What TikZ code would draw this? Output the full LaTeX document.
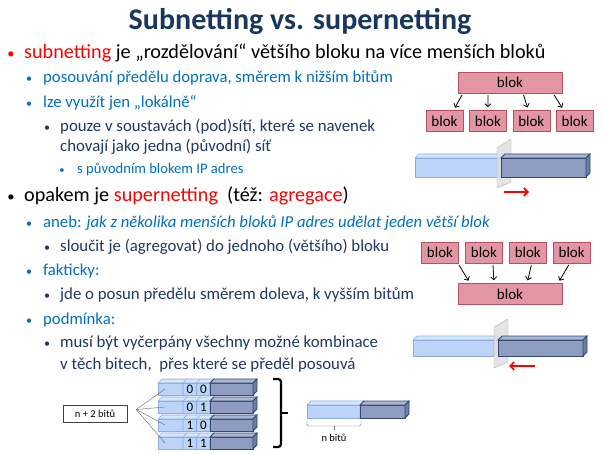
\documentclass[tikz,border=0pt]{standalone}
\usepackage{fontspec}
\setmainfont{Carlito}
\usetikzlibrary{arrows.meta,positioning,calc}

\definecolor{titleblue}{RGB}{23,55,94}
\definecolor{itemblue}{RGB}{0,112,192}
\definecolor{navy}{RGB}{31,56,100}
\definecolor{blokfill}{RGB}{226,150,163}
\definecolor{blokline}{RGB}{180,80,95}
\definecolor{ltfront}{RGB}{188,212,248}
\definecolor{lttopc}{RGB}{214,230,252}
\definecolor{ltedge}{RGB}{140,172,222}
\definecolor{dkfront}{RGB}{141,156,192}
\definecolor{dktopc}{RGB}{170,183,212}
\definecolor{dksidec}{RGB}{108,124,164}
\definecolor{dkedge}{RGB}{52,72,112}

% bullet hanging left of the text
\newcommand{\itm}[2]{\llap{\textcolor{#1}{\scalebox{0.72}{•}}\hspace{#2}}}
% 3D bar: x1, x2, front top, front bottom, kind (lt/dk)
\newcommand{\slab}[5]{%
  \draw[#5front] (#1,#3) rectangle (#2,#4);
  \draw[#5top] (#1,#3) -- ++(4,-4) -- (#2+4,#3-4) -- (#2,#3) -- cycle;
  \draw[#5side] (#2,#3) -- ++(4,-4) -- (#2+4,#4-4) -- (#2,#4) -- cycle;
}

\begin{document}
\begin{tikzpicture}[x=1pt,y=-1pt,
	lvA/.style={anchor=base west, inner sep=0pt, font=\fontsize{20.2}{24}\selectfont},
	lvB/.style={anchor=base west, inner sep=0pt, text=itemblue, font=\fontsize{16.7}{20}\selectfont},
	lvC/.style={anchor=base west, inner sep=0pt, text=navy, font=\fontsize{16.8}{20}\selectfont},
	lvD/.style={anchor=base west, inner sep=0pt, text=itemblue, font=\fontsize{14.6}{17}\selectfont},
	blok/.style={
		rectangle, draw=blokline, fill=blokfill, inner sep=0pt,
		minimum width=37pt, minimum height=21pt, font=\fontsize{15}{18}\selectfont
	},
	wide/.style={minimum width=104pt},
	arr/.style={draw, thick, shorten <=2pt, shorten >=3pt, -{Straight Barb[length=3pt,width=6pt]}},
	redarr/.style={draw=red, line width=1.6pt, -{Straight Barb[length=4pt,width=8pt]}},
	ltfront/.style={fill=ltfront, draw=ltedge, line width=0.6pt},
	lttop/.style={fill=lttopc, draw=ltedge, line width=0.6pt},
	ltside/.style={fill=ltfront, draw=ltedge, line width=0.6pt},
	dkfront/.style={fill=dkfront, draw=dkedge, line width=0.8pt},
	dktop/.style={fill=dktopc, draw=dkedge, line width=0.8pt},
	dkside/.style={fill=dksidec, draw=dkedge, line width=0.8pt},
	pane/.style={fill=black!12, draw=black!30, fill opacity=0.85},
	bit/.style={inner sep=0pt, font=\fontsize{13}{15}\selectfont},
	fan/.style={draw=black!60, thin},
	brc/.style={draw, line width=2.2pt, rounded corners=3pt},
	small/.style={font=\fontsize{10.5}{12}\selectfont},
	]
	\useasboundingbox[fill=white] (0,0) rectangle (605,454);

	% title
	\node[anchor=base, inner sep=0pt, text=titleblue, font=\fontsize{30}{34}\bfseries] (title) at (300,30)
		{Subnetting vs. supernetting};

	% text
	\node[lvA] (t1) at (24,59) {\itm{red}{9.5pt}\textcolor{red}{subnetting} je „rozdělování“ většího bloku na více menších bloků};
	\node[lvB] (t2) at (43,83) {\itm{itemblue}{11pt}posouvání předělu doprava, směrem k nižším bitům};
	\node[lvB] (t3) at (43,108) {\itm{itemblue}{11pt}lze využít jen „lokálně“};
	\node[lvC] (t4) at (60,132) {\itm{navy}{10pt}pouze v soustavách (pod)sítí, které se navenek};
	\node[lvC] (t5) at (60,152) {chovají jako jedna (původní) síť};
	\node[lvD] (t6) at (77,174) {\itm{itemblue}{12.5pt}s původním blokem IP adres};
	\node[lvA] (t7) at (24,202) {\itm{black}{9.5pt}opakem je \textcolor{red}{supernetting}\ \ (též: \textcolor{red}{agregace})};
	\node[lvB] (t8) at (43,228) {\itm{itemblue}{11pt}aneb: \textit{jak z několika menších bloků IP adres udělat jeden větší blok}};
	\node[lvC] (t9) at (60,252) {\itm{navy}{10pt}sloučit je (agregovat) do jednoho (většího) bloku};
	\node[lvB] (t10) at (43,276) {\itm{itemblue}{11pt}fakticky:};
	\node[lvC] (t11) at (60,300) {\itm{navy}{10pt}jde o posun předělu směrem doleva, k vyšším bitům};
	\node[lvB] (t12) at (43,324) {\itm{itemblue}{11pt}podmínka:};
	\node[lvC] (t13) at (60,348) {\itm{navy}{10pt}musí být vyčerpány všechny možné kombinace};
	\node[lvC] (t14) at (60,369) {v těch bitech,\ \ přes které se předěl posouvá};

	% subnetting: one block split
	\node[blok, wide] (sub) at (510,82.5) {blok};
	\node[blok] (s1) at (444.5,121) {blok};
	\node[blok, right=6pt of s1] (s2) {blok};
	\node[blok, right=6pt of s2] (s3) {blok};
	\node[blok, right=6pt of s3] (s4) {blok};
	\foreach \a/\b/\n in {-47/9/1, -22/0/2, 13/-3/3, 43/-11/4}
		\path[arr] ([xshift=\a pt]sub.south) -- ([xshift=\b pt]s\n.north);

	\slab{415}{500}{158}{177}{lt}
	\fill[pane] (497,148) -- (511,139) -- (511,182) -- (497,188) -- cycle;
	\slab{501}{586}{158}{177}{dk}
	\coordinate (mvR0) at (504,192);
	\coordinate (mvR1) at (529,192);
	\path[redarr] (mvR0) -- (mvR1);

	% supernetting: blocks merged
	\node[blok] (p1) at (440,252.5) {blok};
	\node[blok, right=6.5pt of p1] (p2) {blok};
	\node[blok, right=6.5pt of p2] (p3) {blok};
	\node[blok, right=6.5pt of p3] (p4) {blok};
	\node[blok, wide] (sup) at (510,294) {blok};
	\foreach \a/\b/\n in {18/-40/1, 9/-16/2, 4/17/3, -2/48/4}
		\path[arr] ([xshift=\a pt]p\n.south) -- ([xshift=\b pt]sup.north);

	\slab{413}{494}{340}{356}{lt}
	\fill[pane] (494,327) -- (508,319) -- (508,362) -- (494,368) -- cycle;
	\slab{498}{583}{340}{356}{dk}
	\coordinate (mvL0) at (535,366);
	\coordinate (mvL1) at (509,366);
	\path[redarr] (mvL0) -- (mvL1);

	% n + 2 bits
	\node[draw=black!75, fill=white, inner sep=0pt, minimum width=64pt, minimum height=17pt, small] (lbl) at (95,413.5) {n + 2 bitů};
	\coordinate (fanc) at ($(lbl.east)+(9,-4)$);
	\foreach \p/\q [count=\i, evaluate=\i as \yy using 365+18*\i] in {0/0,0/1,1/0,1/1} {
		\slab{158}{210}{\yy}{\yy+12}{lt}
		\slab{210}{253}{\yy}{\yy+12}{dk}
		\draw[ltedge, line width=0.6pt] (183,\yy+12) -- (183,\yy) -- ++(4,-4);
		\draw[ltedge, line width=0.6pt] (196.5,\yy+12) -- (196.5,\yy) -- ++(4,-4);
		\node[bit] (r\i a) at (190,\yy+6.5) {\p};
		\node[bit] (r\i b) at (203.5,\yy+6.5) {\q};
		\coordinate (r\i) at (165,\yy+6);
		\path[fan] (fanc) -- (r\i);
	}
	\draw[brc] (273,379) -- (281,379) -- (281,447) -- (273,447);
	\draw[brc] (281,413) -- (288,413);

	% n bits
	\slab{307}{360}{405}{418}{lt}
	\slab{360}{405}{405}{418}{dk}
	\draw[black!55, rounded corners=1.5pt] (307,421) -- (307,426) -- (361,426) -- (361,421);
	\draw[black!55] (334,426) -- (334,430);
	\node[small, inner sep=0pt] (nb) at (334,438) {n bitů};
\end{tikzpicture}
\end{document}
